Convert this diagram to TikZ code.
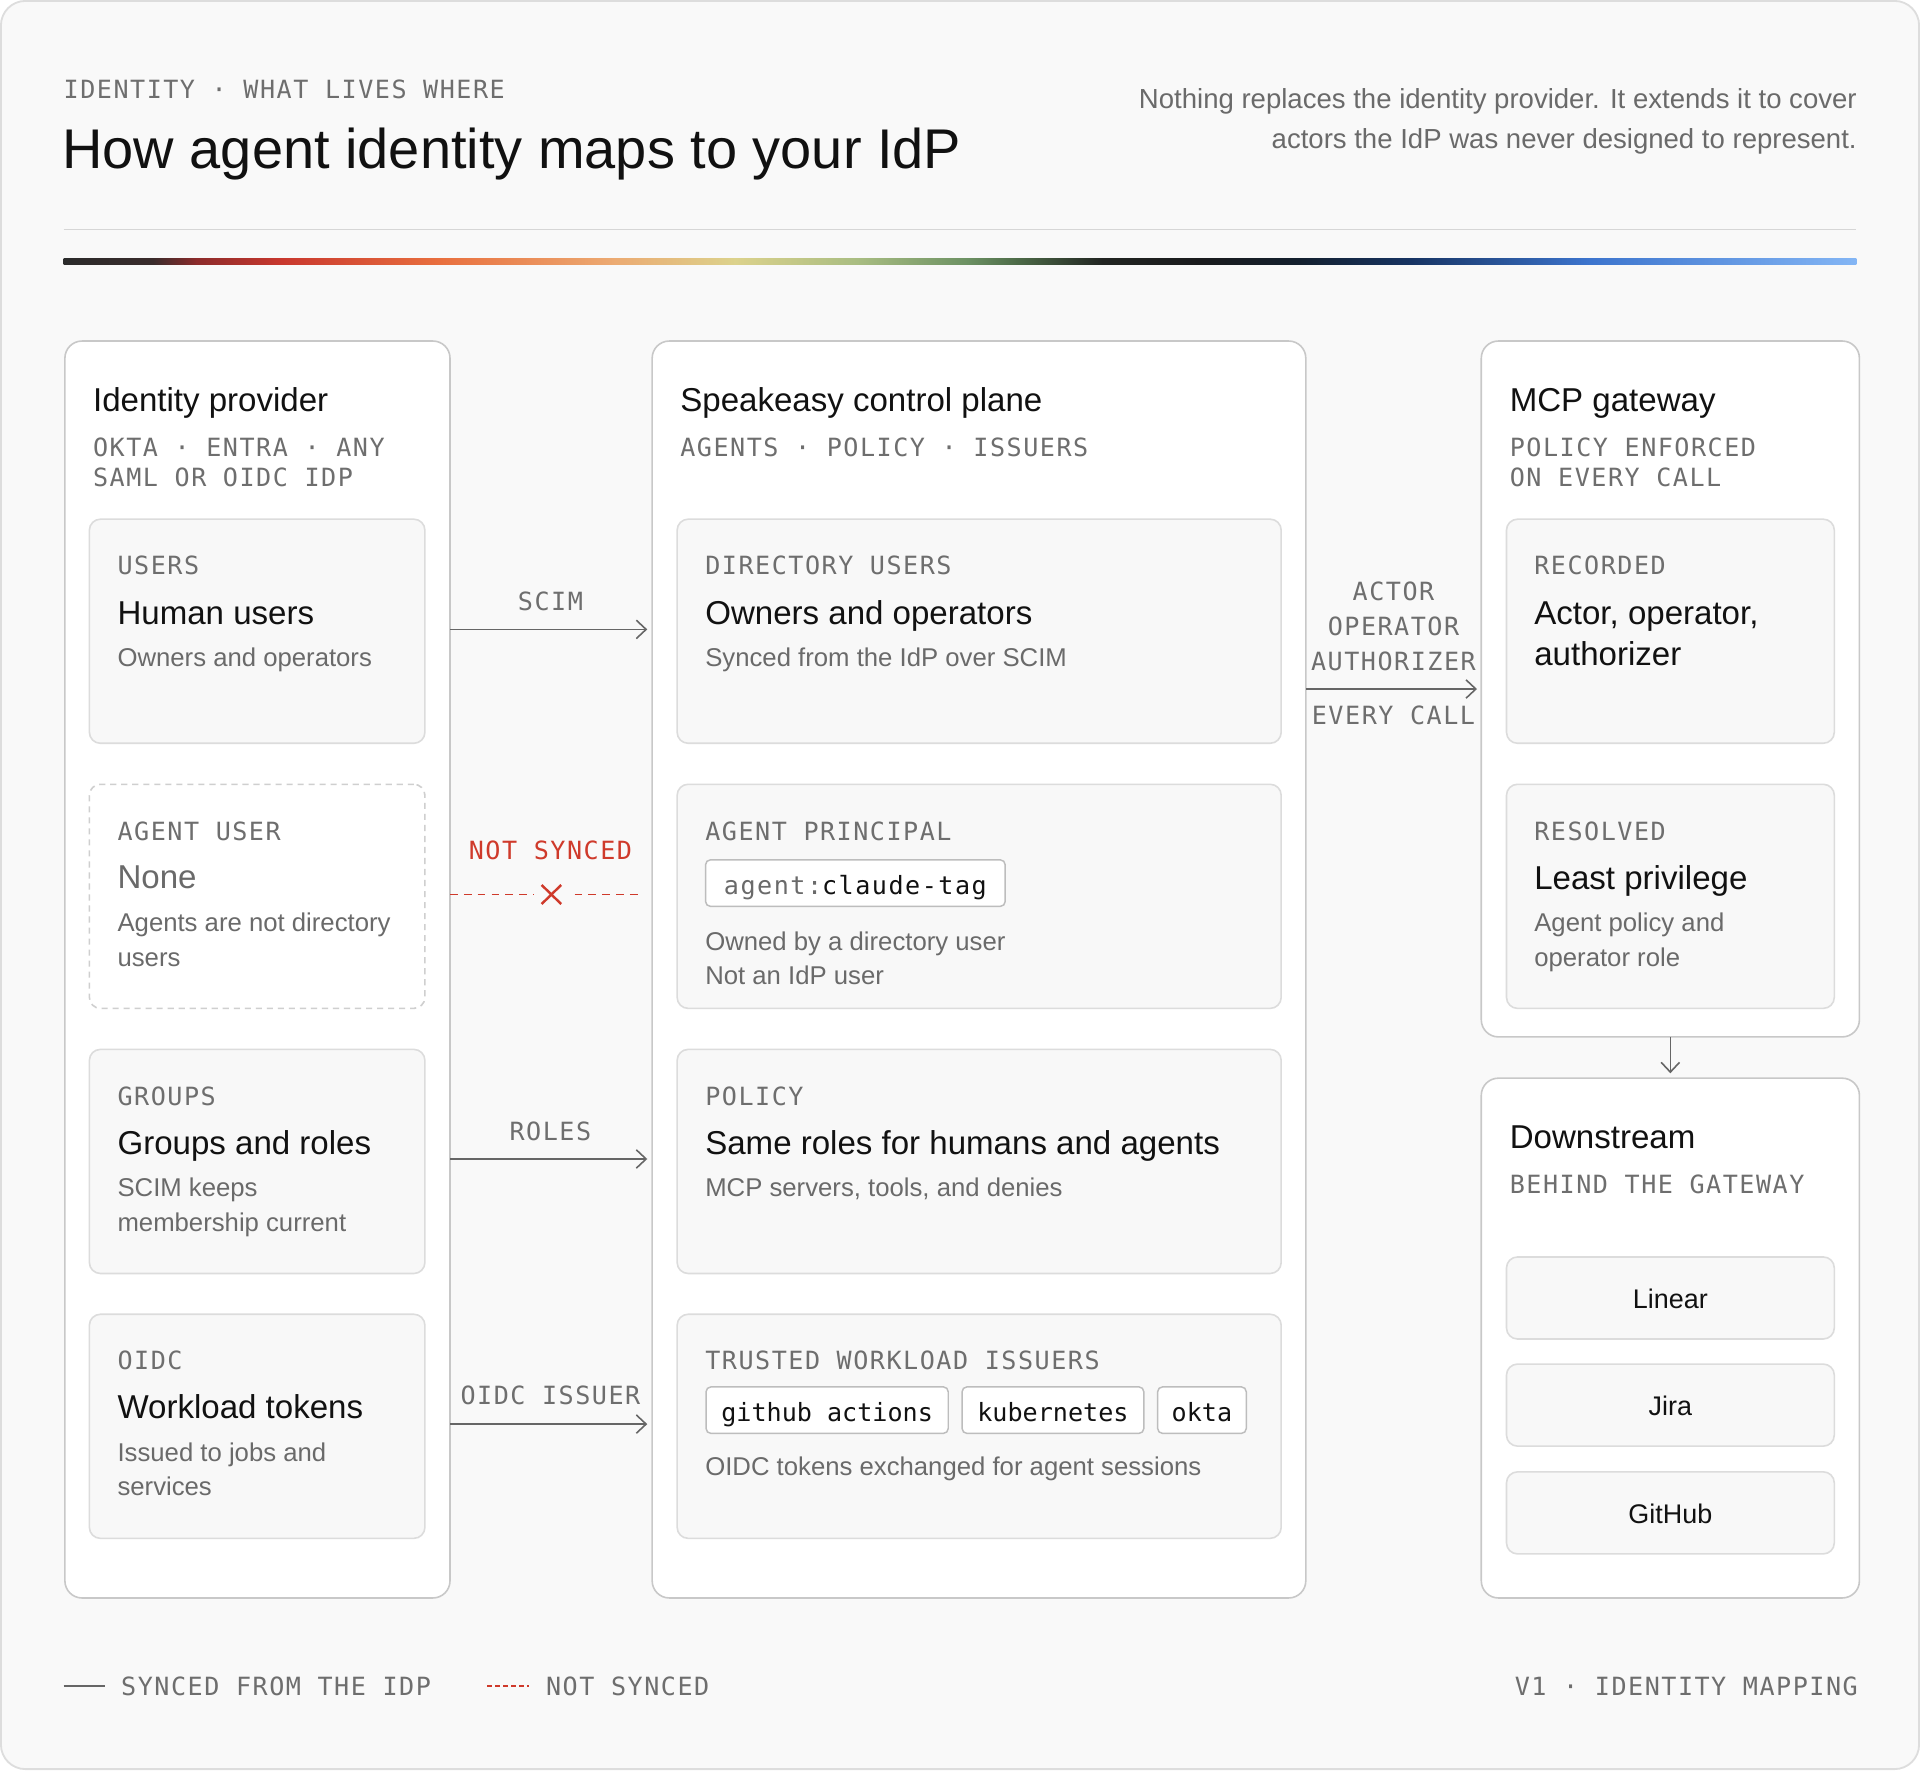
\documentclass[tikz,border=0pt]{standalone}
\usepackage{fontspec}
\setmainfont{Liberation Sans}
\newfontfamily\monol[LetterSpace=6]{DejaVu Sans Mono}
\newfontfamily\monoc{DejaVu Sans Mono}
\usetikzlibrary{arrows.meta}
\definecolor{ink}{HTML}{111111}
\definecolor{grayt}{HTML}{6A6A6A}
\definecolor{monog}{HTML}{6E6E6E}
\definecolor{redc}{HTML}{CF3A2B}
\definecolor{colb}{HTML}{C8C8C8}
\definecolor{cardb}{HTML}{DCDCDC}
\definecolor{cardf}{HTML}{F8F8F8}
\definecolor{dashb}{HTML}{CFCFCF}
\definecolor{chipb}{HTML}{BDBDBD}
\definecolor{lineg}{HTML}{666666}
\definecolor{rulec}{HTML}{D6D6D6}
\definecolor{bgc}{HTML}{F9F9F9}
\definecolor{framec}{HTML}{DDDDDD}
\definecolor{g0}{HTML}{2B2B2B}
\definecolor{g1}{HTML}{3A2C2C}
\definecolor{g2}{HTML}{8C2B2B}
\definecolor{g3}{HTML}{C9382E}
\definecolor{g4}{HTML}{E9703F}
\definecolor{g5}{HTML}{ECAA72}
\definecolor{g6}{HTML}{DCD28C}
\definecolor{g7}{HTML}{A9BD82}
\definecolor{g8}{HTML}{6C9163}
\definecolor{g9}{HTML}{4D6B48}
\definecolor{g10}{HTML}{222522}
\definecolor{g11}{HTML}{1A1B1D}
\definecolor{g12}{HTML}{14202E}
\definecolor{g13}{HTML}{173463}
\definecolor{g14}{HTML}{3C74CD}
\definecolor{g15}{HTML}{84B6F5}
\newcommand\fsTitle{\fontsize{45.7}{52}\selectfont}
\newcommand\fsHead{\fontsize{27}{32}\selectfont}
\newcommand\fsCard{\fontsize{27}{32}\selectfont}
\newcommand\fsBody{\fontsize{21}{28}\selectfont}
\newcommand\fsLede{\fontsize{22.5}{32}\selectfont}
\newcommand\fsMono{\monol\fontsize{20.5}{25}\selectfont}
\newcommand\fsChip{\monoc\fontsize{20.5}{25}\selectfont}
\newcommand\fsSvc{\fontsize{22}{26}\selectfont}
\begin{document}
\begin{tikzpicture}[x=1pt,y=-1pt,
  every node/.style={inner sep=0pt,outer sep=0pt},
  colbox/.style={draw=colb,fill=white,line width=1.3pt,rounded corners=14pt,anchor=north west},
  cardbox/.style={draw=cardb,fill=cardf,line width=1.3pt,rounded corners=9pt,anchor=north west},
  dashbox/.style={draw=dashb,fill=white,line width=1.3pt,rounded corners=9pt,dash pattern=on 5pt off 4pt,anchor=north west},
  mono/.style={font=\fsMono,text=monog,anchor=base west},
  hd/.style={font=\fsHead,text=ink,anchor=base west},
  ct/.style={font=\fsCard,text=ink,anchor=base west},
  bd/.style={font=\fsBody,text=grayt,anchor=base west},
  lbl/.style={font=\fsMono,text=monog,anchor=base},
  conn/.style={draw=lineg,line width=1.3pt,-{Straight Barb[length=8pt,width=15pt,line width=1.3pt]}},
  nsline/.style={draw=redc,line width=1.6pt,dash pattern=on 6.3pt off 5pt},
  chip/.style={draw=chipb,fill=white,line width=1.2pt,rounded corners=4pt,minimum height=38pt,text height=22pt,text depth=3.2pt,inner xsep=12.5pt,anchor=west,font=\fsChip,text=ink},
  svc/.style={cardbox,minimum width=267.7pt,minimum height=67pt,font=\fsSvc,text=ink,text height=20pt,text depth=2.6pt},
]
\useasboundingbox (0,0) rectangle (1568,1445.5);
\draw[draw=framec,fill=bgc,line width=1.5pt,rounded corners=20pt] (0.75,0.75) rectangle (1567.25,1444.75);

% header
\node[mono] (kicker) at (52,80.8) {IDENTITY · WHAT LIVES WHERE};
\node[font=\fsTitle,text=ink,anchor=base west] (title) at (51,138) {How agent identity maps to your IdP};
\node[font=\fsLede,text=grayt,anchor=base east] (lede1) at (1516.3,89) {Nothing replaces the identity provider. It extends it to cover};
\node[font=\fsLede,text=grayt,anchor=base east] (lede2) at (1516.3,121.1) {actors the IdP was never designed to represent.};
\draw[draw=rulec,line width=1.2pt] (52,187.3) -- (1516,187.3);
\foreach \xa/\ca/\xb/\cb in {52/g0/125/g1,125/g1/160/g2,160/g2/230/g3,230/g3/360/g4,360/g4/500/g5,500/g5/600/g6,600/g6/700/g7,700/g7/790/g8,790/g8/830/g9,830/g9/900/g10,900/g10/980/g11,980/g11/1060/g12,1060/g12/1152/g13,1152/g13/1296/g14,1296/g14/1516/g15}{
  \shade[left color=\ca,right color=\cb] (\xa,211.5) rectangle ({min(\xb+0.6,1516)},216.2);
}

% column 1: identity provider
\node[colbox,minimum width=314.5pt,minimum height=1026.5pt] (idp) at (53,278.5) {};
\node[hd] (idpT) at (76,336.2) {Identity provider};
\node[mono] (idpS1) at (76,372.4) {OKTA · ENTRA · ANY};
\node[mono] (idpS2) at (76,397.4) {SAML OR OIDC IDP};

\node[cardbox,minimum width=274pt,minimum height=183pt] (u1) at (73,424) {};
\node[mono] (u1a) at (96,469.5) {USERS};
\node[ct] (u1b) at (96,509.6) {Human users};
\node[bd] (u1c) at (96,544.5) {Owners and operators};

\node[dashbox,minimum width=274pt,minimum height=183pt] (u2) at (73,640.5) {};
\node[mono] (u2a) at (96,686) {AGENT USER};
\node[font=\fsCard,text=grayt,anchor=base west] (u2b) at (96,726) {None};
\node[bd] (u2c) at (96,761) {Agents are not directory};
\node[bd] (u2d) at (96,789) {users};

\node[cardbox,minimum width=274pt,minimum height=183pt] (u3) at (73,857) {};
\node[mono] (u3a) at (96,902.5) {GROUPS};
\node[ct] (u3b) at (96,942.6) {Groups and roles};
\node[bd] (u3c) at (96,977.5) {SCIM keeps};
\node[bd] (u3d) at (96,1005.5) {membership current};

\node[cardbox,minimum width=274pt,minimum height=183pt] (u4) at (73,1073.3) {};
\node[mono] (u4a) at (96,1118.3) {OIDC};
\node[ct] (u4b) at (96,1158.3) {Workload tokens};
\node[bd] (u4c) at (96,1193.6) {Issued to jobs and};
\node[bd] (u4d) at (96,1221.7) {services};

% column 2: control plane
\node[colbox,minimum width=533.8pt,minimum height=1026.5pt] (cp) at (532.6,278.5) {};
\node[hd] (cpT) at (555.6,336.2) {Speakeasy control plane};
\node[mono] (cpS) at (555.6,372.4) {AGENTS · POLICY · ISSUERS};

\node[cardbox,minimum width=493.3pt,minimum height=183pt] (c1) at (553,424) {};
\node[mono] (c1a) at (576,469.5) {DIRECTORY USERS};
\node[ct] (c1b) at (576,509.6) {Owners and operators};
\node[bd] (c1c) at (576,544.5) {Synced from the IdP over SCIM};

\node[cardbox,minimum width=493.3pt,minimum height=183pt] (c2) at (553,640.5) {};
\node[mono] (c2a) at (576,686) {AGENT PRINCIPAL};
\node[chip,font=\fsMono,inner xsep=15pt] (agent) at (576.2,721.2) {{\color{grayt}agent:}claude-tag};
\node[bd] (c2c) at (576,776.4) {Owned by a directory user};
\node[bd] (c2d) at (576,804.4) {Not an IdP user};

\node[cardbox,minimum width=493.3pt,minimum height=183pt] (c3) at (553,857) {};
\node[mono] (c3a) at (576,902.5) {POLICY};
\node[ct] (c3b) at (576,942.6) {Same roles for humans and agents};
\node[bd] (c3c) at (576,977.5) {MCP servers, tools, and denies};

\node[cardbox,minimum width=493.3pt,minimum height=183pt] (c4) at (553,1073.3) {};
\node[mono] (c4a) at (576,1118.3) {TRUSTED WORKLOAD ISSUERS};
\node[chip] (gha) at (576.6,1151.6) {github actions};
\node[chip] (k8s) at ([xshift=11.3pt]gha.east) {kubernetes};
\node[chip,inner xsep=11.5pt] (okta) at ([xshift=11.3pt]k8s.east) {okta};
\node[bd] (c4c) at (576,1204.6) {OIDC tokens exchanged for agent sessions};

% column 3: gateway
\node[colbox,minimum width=308.8pt,minimum height=568.3pt] (mcp) at (1209.7,278.5) {};
\node[hd] (mcpT) at (1233,336.2) {MCP gateway};
\node[mono] (mcpS1) at (1233,372.4) {POLICY ENFORCED};
\node[mono] (mcpS2) at (1233,397) {ON EVERY CALL};

\node[cardbox,minimum width=267.7pt,minimum height=183pt] (m1) at (1230.3,424) {};
\node[mono] (m1a) at (1253,469.5) {RECORDED};
\node[ct] (m1b) at (1253,509.6) {Actor, operator,};
\node[ct] (m1c) at (1253,543.3) {authorizer};

\node[cardbox,minimum width=267.7pt,minimum height=183pt] (m2) at (1230.3,640.5) {};
\node[mono] (m2a) at (1253,686) {RESOLVED};
\node[ct] (m2b) at (1253,726.1) {Least privilege};
\node[bd] (m2c) at (1253,761) {Agent policy and};
\node[bd] (m2d) at (1253,789) {operator role};

% downstream
\node[colbox,minimum width=308.8pt,minimum height=424.5pt] (down) at (1209.7,880.5) {};
\node[hd] (downT) at (1233,937.7) {Downstream};
\node[mono] (downS) at (1233,974.8) {BEHIND THE GATEWAY};
\node[svc] (lin) at (1230.3,1026.5) {Linear};
\node[svc] (jira) at (1230.3,1114) {Jira};
\node[svc] (ghub) at (1230.3,1202) {GitHub};

% connectors column 1 -> column 2
\coordinate (yScim) at (0,514);
\draw[conn,shorten >=4pt] (idp.east |- yScim) -- (cp.west |- yScim);
\node[lbl] (scimL) at (449.5,498.2) {SCIM};

\coordinate (xc) at (450.3,730.5);
\coordinate (xl) at (436.4,730.5);
\coordinate (xr) at (469.2,730.5);
\draw[nsline] (idp.east |- xc) -- (xl);
\draw[nsline,shorten >=7.6pt] (xr) -- (cp.west |- xc);
\draw[draw=redc,line width=2pt] ([shift={(-8,-7.8)}]xc) -- ([shift={(8,7.8)}]xc);
\draw[draw=redc,line width=2pt] ([shift={(-8,7.8)}]xc) -- ([shift={(8,-7.8)}]xc);
\node[lbl,text=redc] (nsL) at (449.5,701.8) {NOT SYNCED};

\coordinate (yRoles) at (0,946.5);
\draw[conn,shorten >=4pt] (idp.east |- yRoles) -- (cp.west |- yRoles);
\node[lbl] (rolesL) at (449.5,931) {ROLES};

\coordinate (yOidc) at (0,1163);
\draw[conn,shorten >=4pt] (idp.east |- yOidc) -- (cp.west |- yOidc);
\node[lbl] (oidcL) at (449.5,1147.4) {OIDC ISSUER};

% column 2 -> gateway
\coordinate (yAct) at (0,562.7);
\draw[conn,shorten >=3.5pt] (cp.east |- yAct) -- (mcp.west |- yAct);
\node[lbl] (actL1) at (1138,490.8) {ACTOR};
\node[lbl] (actL2) at (1138,518.6) {OPERATOR};
\node[lbl] (actL3) at (1138,547.2) {AUTHORIZER};
\node[lbl] (actL4) at (1138,592) {EVERY CALL};

% gateway -> downstream
\draw[conn,shorten >=4pt] (mcp.south) -- (down.north);

% legend
\coordinate (lgA) at (52,1377);
\coordinate (lgB) at (86,1377);
\coordinate (lgC) at (398,1377);
\coordinate (lgD) at (432,1377);
\draw[draw=lineg,line width=1.8pt] (lgA) -- (lgB);
\node[mono] (lg1) at (99,1385) {SYNCED FROM THE IDP};
\draw[draw=redc,line width=1.8pt,dash pattern=on 4pt off 2.5pt] (lgC) -- (lgD);
\node[mono] (lg2) at (446,1385) {NOT SYNCED};
\node[mono,anchor=base east] (ver) at (1517.2,1385) {V1 · IDENTITY MAPPING};
\end{tikzpicture}
\end{document}
